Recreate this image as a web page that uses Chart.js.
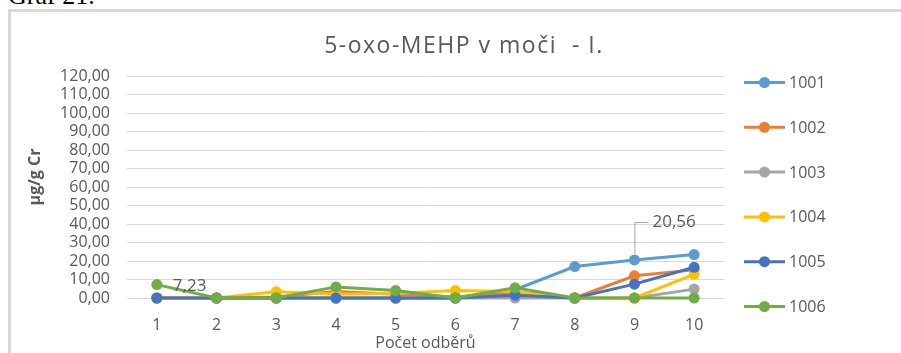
<!DOCTYPE html>
<html>
<head>
<meta charset="utf-8">
<script src="https://cdn.jsdelivr.net/npm/chart.js@4/dist/chart.umd.min.js"></script>
<style>
  html, body { margin: 0; padding: 0; background: #fff; width: 901px; height: 353px; overflow: hidden; }
  #caption { position: absolute; left: 8px; top: -17px; font: 26px/26px "Liberation Serif", serif; color: #000; white-space: nowrap; }
  #frame { position: absolute; left: 8px; top: 9px; width: 1000px; height: 500px; border-left: 3px solid #d9d9d9; border-top: 3px solid #d9d9d9; }
  #wrap { position: absolute; left: 0; top: 0; width: 901px; height: 353px; }
</style>
</head>
<body>
<div id="caption">Graf 21.</div>
<div id="frame"></div>
<div id="wrap"><canvas id="c" width="901" height="353"></canvas></div>
<script>
// Sampling rounds (x axis)
const categories = ['1', '2', '3', '4', '5', '6', '7', '8', '9', '10'];

// 5-oxo-MEHP in urine, µg/g creatinine, per participant
const s1001 = [0, 0, 0, 0, 0, 0, 4.5, 17, 20.56, 23.5];
const s1002 = [0, 0, 0.5, 3.5, 2, 0.5, 2.5, 0, 12, 15.2];
const s1003 = [0, 0, 0, 0, 0, 0, 0, 0, 0, 4.8];
const s1004 = [0, 0, 3.4, 2, 2.5, 4, 3.5, 0, 0, 12.8];
const s1005 = [0, 0, 0, 0, 0, 0, 1.5, 0, 7.5, 16.6];
const s1006 = [7.23, 0, 0, 6, 4, 0, 5.5, 0, 0, 0];

const seriesNames = ['1001', '1002', '1003', '1004', '1005', '1006'];
const seriesData = [s1001, s1002, s1003, s1004, s1005, s1006];
const seriesColors = ['#5B9BD5', '#ED7D31', '#A5A5A5', '#FFC000', '#4472C4', '#70AD47'];

// Y axis range
const yMin = 0, yMax = 120, yStep = 10;

// Points that carry a value label: [series index, point index]
const labelledPoints = [[5, 0], [0, 8]];

const TEXT = '#595959';
const FONT = '"Open Sans", sans-serif';
const fmt = v => v.toFixed(2).replace('.', ',');

const datasets = seriesNames.map((name, i) => ({
  label: name,
  data: seriesData[i],
  borderColor: seriesColors[i],
  backgroundColor: seriesColors[i],
  borderWidth: 3,
  pointRadius: 5.5,
  pointHoverRadius: 5.5,
  pointBorderWidth: 0,
  tension: 0,
  order: seriesNames.length - i,
  clip: false
}));

const decor = {
  id: 'decor',
  afterDraw(chart) {
    const { ctx } = chart;
    const x = chart.scales.x, y = chart.scales.y;
    ctx.save();

    // chart title
    ctx.fillStyle = TEXT;
    ctx.font = '23px ' + FONT;
    ctx.letterSpacing = '1.5px';
    ctx.textAlign = 'center';
    ctx.textBaseline = 'alphabetic';
    ctx.fillText('5-oxo-MEHP v moči  - I.', 464, 53);
    ctx.letterSpacing = '0px';

    // y axis title
    ctx.save();
    ctx.translate(35, 177);
    ctx.rotate(-Math.PI / 2);
    ctx.font = 'bold 16px ' + FONT;
    ctx.textBaseline = 'middle';
    ctx.fillText('µg/g Cr', 0, 0);
    ctx.restore();

    // value labels
    ctx.font = '17px ' + FONT;
    ctx.textBaseline = 'middle';
    labelledPoints.forEach(([si, pi]) => {
      const v = seriesData[si][pi];
      const px = x.getPixelForValue(pi);
      const py = y.getPixelForValue(v);
      const txt = fmt(v);
      if (py < y.getPixelForValue(15)) {
        // label lifted above the point with a leader line
        const ly = py - 38;
        ctx.strokeStyle = '#a6a6a6';
        ctx.lineWidth = 1;
        ctx.beginPath();
        ctx.moveTo(px + 0.5, py - 6);
        ctx.lineTo(px + 0.5, ly + 0.5);
        ctx.lineTo(px + 14, ly + 0.5);
        ctx.stroke();
        ctx.textAlign = 'left';
        ctx.fillText(txt, px + 18, ly);
      } else {
        ctx.textAlign = 'left';
        ctx.fillText(txt, px + 16, py + 2);
      }
    });

    // legend
    const lx0 = 744, lx1 = 785, ly0 = 82.5, ldy = 44.8;
    ctx.font = '16px ' + FONT;
    ctx.textAlign = 'left';
    seriesNames.forEach((name, i) => {
      const ly = ly0 + i * ldy;
      ctx.strokeStyle = seriesColors[i];
      ctx.fillStyle = seriesColors[i];
      ctx.lineWidth = 3;
      ctx.beginPath();
      ctx.moveTo(lx0, ly);
      ctx.lineTo(lx1, ly);
      ctx.stroke();
      ctx.beginPath();
      ctx.arc((lx0 + lx1) / 2, ly, 5.5, 0, Math.PI * 2);
      ctx.fill();
      ctx.fillStyle = TEXT;
      ctx.fillText(name, 789, ly + 1);
    });
    ctx.restore();
  }
};

new Chart(document.getElementById('c'), {
  type: 'line',
  data: { labels: categories, datasets },
  options: {
    responsive: false,
    animation: false,
    events: [],
    layout: { padding: { left: 0, top: 76, right: 177, bottom: 0 } },
    plugins: { legend: { display: false }, title: { display: false }, tooltip: { enabled: false } },
    scales: {
      x: {
        type: 'category',
        offset: true,
        grid: { display: false, drawTicks: false },
        border: { display: false },
        ticks: { color: TEXT, font: { family: FONT, size: 16 }, padding: 18, maxRotation: 0 },
        title: { display: true, text: 'Počet odběrů', color: TEXT, font: { family: FONT, size: 16 }, padding: { top: 0, bottom: 0 } },
        afterFit(s) { s.height = 55; }
      },
      y: {
        min: yMin,
        max: yMax,
        grid: { color: '#d9d9d9', lineWidth: 1, drawTicks: false },
        border: { display: false },
        ticks: { stepSize: yStep, autoSkip: false, maxTicksLimit: 20, color: TEXT, font: { family: FONT, size: 16, lineHeight: 1 }, padding: 17, callback: v => fmt(v) },
        afterFit(s) { s.width = 127; }
      }
    }
  },
  plugins: [decor]
});
</script>
</body>
</html>
